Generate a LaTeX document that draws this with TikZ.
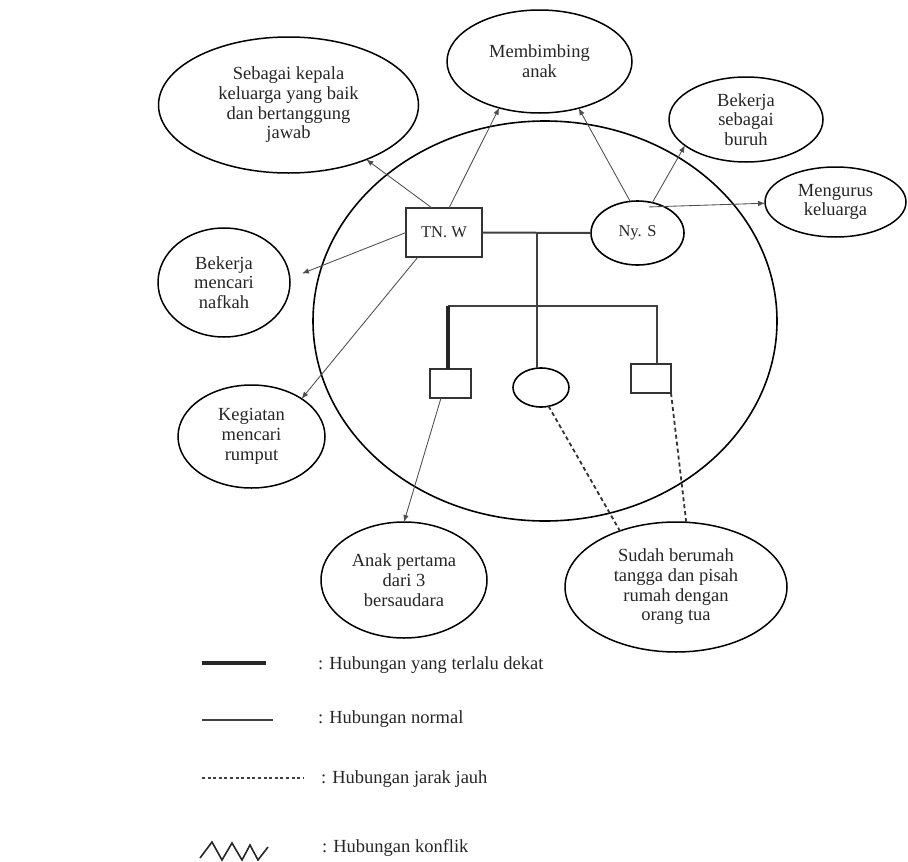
\documentclass[tikz,border=0pt]{standalone}
\usepackage{fontspec}
\setmainfont{Liberation Serif}
\usetikzlibrary{shapes.geometric,arrows.meta,calc}
\begin{document}
\begin{tikzpicture}[x=1pt,y=-1pt,
  every node/.style={font=\fontsize{18.5}{19.7}\selectfont, text=black!85, align=center, inner sep=0pt, outer sep=0pt},
  bubble/.style={draw=black, ellipse, line width=1.5pt},
  person/.style={draw=black!80, rectangle, line width=1.7pt},
  small/.style={font=\fontsize{16.5}{18}\selectfont},
  famline/.style={draw=black!75, line width=2pt},
  closeline/.style={draw=black!85, line width=3.2pt},
  arr/.style={draw=black!70, line width=0.85pt, -{Latex[length=7pt,width=5.5pt]}},
  dashline/.style={draw=black!80, line width=1.8pt, dash pattern=on 4pt off 3pt},
  legtext/.style={anchor=base west, align=left}
]
\useasboundingbox (0,0) rectangle (908,862);

% big family circle
\node[bubble, line width=1.6pt, minimum width=464pt, minimum height=400pt] (family) at (545,321) {};

% outer bubbles
\node[bubble, minimum width=260pt, minimum height=136pt] (kepala) at (288.5,105) {Sebagai kepala\\keluarga yang baik\\dan bertanggung\\jawab};
\node[bubble, minimum width=185pt, minimum height=103pt] (bimbing) at (539.5,61.5) {Membimbing\\anak};
\node[bubble, minimum width=154pt, minimum height=85pt] (buruh) at (746,119.5) {Bekerja\\sebagai\\buruh};
\node[bubble, minimum width=141pt, minimum height=70pt] (urus) at (835.5,202) {Mengurus\\keluarga};
\node[bubble, minimum width=132pt, minimum height=109pt] (nafkah) at (224,282.5) {Bekerja\\mencari\\nafkah};
\node[bubble, minimum width=147pt, minimum height=103pt] (rumput) at (251.5,436.5) {Kegiatan\\mencari\\rumput};
\node[bubble, minimum width=166pt, minimum height=116pt] (anak) at (404,580) {Anak pertama\\dari 3\\bersaudara};
\node[bubble, minimum width=222pt, minimum height=130pt] (rumah) at (676,587) {Sudah berumah\\tangga dan pisah\\rumah dengan\\orang tua};

% family members
\node[person, small, minimum width=76pt, minimum height=49pt] (tnw) at (444,232.5) {TN. W};
\node[bubble, small, line width=1.6pt, minimum width=93pt, minimum height=64pt] (nys) at (637.5,233) {Ny. S};
\node[person, minimum width=41pt, minimum height=29pt] (c1) at (450.5,383.5) {};
\node[bubble, line width=1.6pt, minimum width=56pt, minimum height=39pt] (c2) at (541,387.5) {};
\node[person, minimum width=40pt, minimum height=29pt] (c3) at (651,378.5) {};

% genealogy lines
\coordinate (mid) at (537,232.5);
\coordinate (sib) at (537,306);
\coordinate (c1top) at ($(c1.north)+(-2.5,0)$);
\coordinate (c3top) at ($(c3.north)+(6,0)$);
\draw[famline] (tnw.east) -- (nys.west);
\draw[famline] (mid) -- (sib);
\draw[famline] (c1top |- sib) -- (c3top |- sib) -- (c3top);
\draw[famline] (sib) -- (sib |- c2.north);
\draw[closeline] (c1top |- sib) -- (c1top);

% arrows
\draw[arr] ($(tnw.north)+(-12,0)$) -- (kepala.-35);
\draw[arr] ($(tnw.north)+(5,0)$) -- (bimbing.-131);
\draw[arr] (nys.103) -- (bimbing.-50);
\draw[arr] (nys.64) -- (buruh.-157);
\draw[arr] ($(nys.70)+(0,5)$) -- (urus.181);
\draw[arr] (tnw.west) -- ($(nafkah.east)+(12,-9)$);
\draw[arr] ($(tnw.south west)+(12,0)$) -- (rumput.37);
\draw[arr] ($(c1.south)+(-9.5,0)$) -- (anak.north);
\draw[dashline] (c2.-68) -- (rumah.135);
\draw[dashline] (c3.south east) -- (rumah.81);

% legend
\coordinate (l1a) at (202,663); \coordinate (l1b) at (266,663);
\coordinate (l2a) at (202,720); \coordinate (l2b) at (273,720);
\coordinate (l3a) at (202,778); \coordinate (l3b) at (303,778);
\draw[closeline] (l1a) -- (l1b);
\draw[famline] (l2a) -- (l2b);
\draw[draw=black!75, line width=1.5pt, dash pattern=on 3pt off 2.6pt] (l3a) -- (l3b);
\draw[draw=black!85, line width=1.6pt] (200,858) -- (212,842) -- (222,860) -- (232,843) -- (242,860) -- (250,845) -- (258,860) -- (268,847);
\node[legtext] (t1) at (318,669) {: Hubungan yang terlalu dekat};
\node[legtext] (t2) at (318,723) {: Hubungan normal};
\node[legtext] (t3) at (321,783) {: Hubungan jarak jauh};
\node[legtext] (t4) at (322,852) {: Hubungan konflik};
\end{tikzpicture}
\end{document}
